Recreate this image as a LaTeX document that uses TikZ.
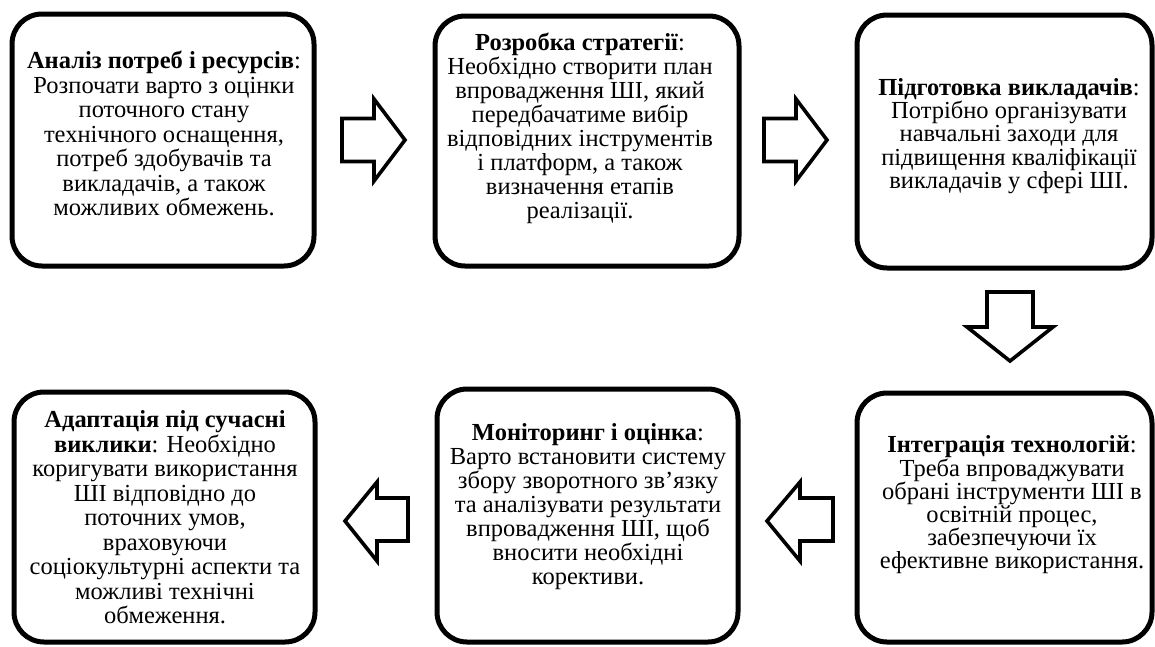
\documentclass[tikz,border=0pt]{standalone}
\usepackage{fontspec}
\setmainfont{Liberation Serif}
\begin{document}
\begin{tikzpicture}[x=1pt,y=-1pt,
  stagebox/.style={draw=black, line width=5pt, rounded corners=30pt, fill=white, inner sep=0pt},
  stagetext/.style={align=center, inner sep=0pt, font=\fontsize{24.5}{24}\selectfont},
  tightlines/.style={font=\fontsize{24.5}{23.2}\selectfont},
  looselines/.style={font=\fontsize{24.5}{24.5}\selectfont},
  blockarrow/.style={draw=black, line width=3.6pt, fill=white, line join=miter, miter limit=10}]
\useasboundingbox (0,0) rectangle (1155,646);

% boxes
\node[stagebox, minimum width=302pt, minimum height=252pt] (b1) at (163,140) {};
\node[stagebox, minimum width=304pt, minimum height=250pt] (b2) at (587,141) {};
\node[stagebox, minimum width=295pt, minimum height=253pt] (b3) at (1004.5,141.5) {};
\node[stagebox, minimum width=301pt, minimum height=250pt] (b4) at (164.5,517) {};
\node[stagebox, minimum width=301pt, minimum height=253pt] (b5) at (587.5,515.5) {};
\node[stagebox, minimum width=295pt, minimum height=249pt] (b6) at (1004.5,517.5) {};

% texts
\node[stagetext, looselines] (t1) at (164,133.5) {\textbf{Аналіз потреб і ресурсів}:\\Розпочати варто з оцінки\\поточного стану\\технічного оснащення,\\потреб здобувачів та\\викладачів, а також\\можливих обмежень.};
\node[stagetext] (t2) at (580,128.5) {\textbf{Розробка стратегії}:\\Необхідно створити план\\впровадження ШІ, який\\передбачатиме вибір\\відповідних інструментів\\і платформ, а також\\визначення етапів\\реалізації.};
\node[stagetext, tightlines] (t3) at (1009,136) {\textbf{Підготовка викладачів}:\\Потрібно організувати\\навчальні заходи для\\підвищення кваліфікації\\викладачів у сфері ШІ.};
\node[stagetext, looselines] (t4) at (165,517.5) {\textbf{Адаптація під сучасні}\\\textbf{виклики}: Необхідно\\коригувати використання\\ШІ відповідно до\\поточних умов,\\враховуючи\\соціокультурні аспекти та\\можливі технічні\\обмеження.};
\node[stagetext] (t5) at (588,506.5) {\textbf{Моніторинг і оцінка}:\\Варто встановити систему\\збору зворотного зв’язку\\та аналізувати результати\\впровадження ШІ, щоб\\вносити необхідні\\корективи.};
\node[stagetext, tightlines] (t6) at (1012,505) {\textbf{Інтеграція технологій}:\\Треба впроваджувати\\обрані інструменти ШІ в\\освітній процес,\\забезпечуючи їх\\ефективне використання.};

% block arrows
\draw[blockarrow] (342,118.5) -- (374,118.5) -- (374,99) -- (405,140) -- (374,181) -- (374,161.5) -- (342,161.5) -- cycle;
\draw[blockarrow] (764,118.5) -- (796,118.5) -- (796,99) -- (827,140) -- (796,181) -- (796,161.5) -- (764,161.5) -- cycle;
\draw[blockarrow] (987,292) -- (1033,292) -- (1033,327) -- (1053,327) -- (1010,361) -- (967,327) -- (987,327) -- cycle;
\draw[blockarrow] (833,498) -- (800,498) -- (800,482) -- (767,521) -- (800,561) -- (800,541) -- (833,541) -- cycle;
\draw[blockarrow] (408,498) -- (377,498) -- (377,482) -- (345,521) -- (377,561) -- (377,541) -- (408,541) -- cycle;
\end{tikzpicture}
\end{document}
